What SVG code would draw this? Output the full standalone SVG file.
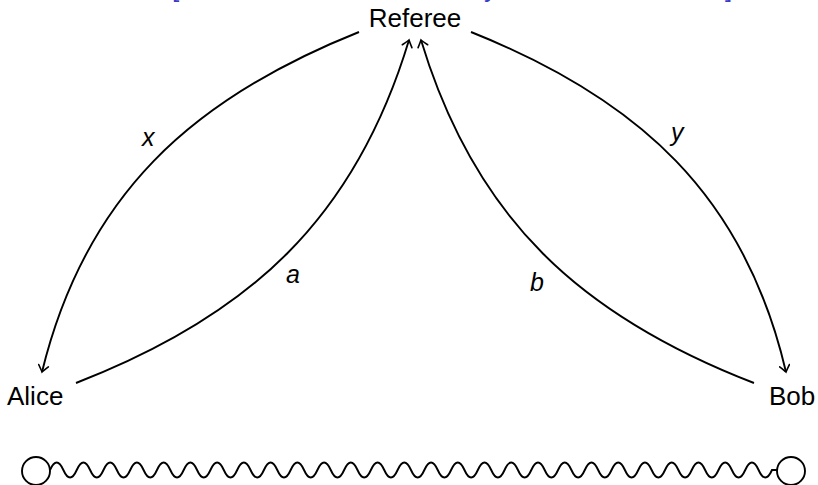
<svg xmlns="http://www.w3.org/2000/svg" width="818" height="485" viewBox="0 0 818 485">
<style>
  .lbl { font-family: "Liberation Sans", "DejaVu Sans", sans-serif; font-size: 26px; fill: #000; }
  .it { font-family: "Liberation Sans", "DejaVu Sans", sans-serif; font-size: 25px; font-style: italic; fill: #000; }
  .blue { font-family: "Liberation Sans", "DejaVu Sans", sans-serif; font-size: 26px; fill: #3b3bc4; }
  .edge { fill: none; stroke: #000; stroke-width: 1.9; marker-end: url(#to); }
  .line { fill: none; stroke: #000; stroke-width: 1.9; }
</style>
<defs>
  <marker id="to" viewBox="-8 -6 10 12" refX="0" refY="0" markerWidth="10" markerHeight="12" markerUnits="userSpaceOnUse" orient="auto">
    <path d="M-6.5,-5 Q-1.5,-1 0,0 Q-1.5,1 -6.5,5" fill="none" stroke="#000" stroke-width="1.6" stroke-linecap="round"/>
  </marker>
</defs>
<g id="top-caption">
  <text class="blue" x="172" y="-3">[</text>
  <text class="blue" x="484" y="-3">y</text>
  <text class="blue" x="725" y="-3">]</text>
</g>
<g id="referee"><text class="lbl" x="415" y="27" text-anchor="middle">Referee</text></g>
<g id="alice"><text class="lbl" x="7" y="405">Alice</text></g>
<g id="bob"><text class="lbl" x="769" y="405">Bob</text></g>
<g id="connectors">
  <path class="edge" d="M359,32 C191,99 85,196 42,372"/>
  <path class="edge" d="M76,383 C249,316 355,219 409,40"/>
  <path class="edge" d="M754,383 C581,316 475,219 421,40"/>
  <path class="edge" d="M471,32 C639,99 745,196 786,372"/>
  <text class="it" x="142" y="146">x</text>
  <text class="it" x="671" y="141">y</text>
  <text class="it" x="286" y="283">a</text>
  <text class="it" x="530" y="291">b</text>
</g>
<g id="wave">
  <circle class="line" cx="36" cy="471" r="14"/>
  <circle class="line" cx="791" cy="471" r="14"/>
  <path class="line" d="M50,470 q6.685,-15 13.37,0 t13.37,0 t13.37,0 t13.37,0 t13.37,0 t13.37,0 t13.37,0 t13.37,0 t13.37,0 t13.37,0 t13.37,0 t13.37,0 t13.37,0 t13.37,0 t13.37,0 t13.37,0 t13.37,0 t13.37,0 t13.37,0 t13.37,0 t13.37,0 t13.37,0 t13.37,0 t13.37,0 t13.37,0 t13.37,0 t13.37,0 t13.37,0 t13.37,0 t13.37,0 t13.37,0 t13.37,0 t13.37,0 t13.37,0 t13.37,0 t13.37,0 t13.37,0 t13.37,0 t13.37,0 t13.37,0 t13.37,0 t13.37,0 t13.37,0 t13.37,0 t13.37,0 t13.37,0 t13.37,0 t13.37,0 t13.37,0 t13.37,0 t13.37,0 t13.37,0 t13.37,0 t13.37,0 L777,470"/>
</g>
</svg>
